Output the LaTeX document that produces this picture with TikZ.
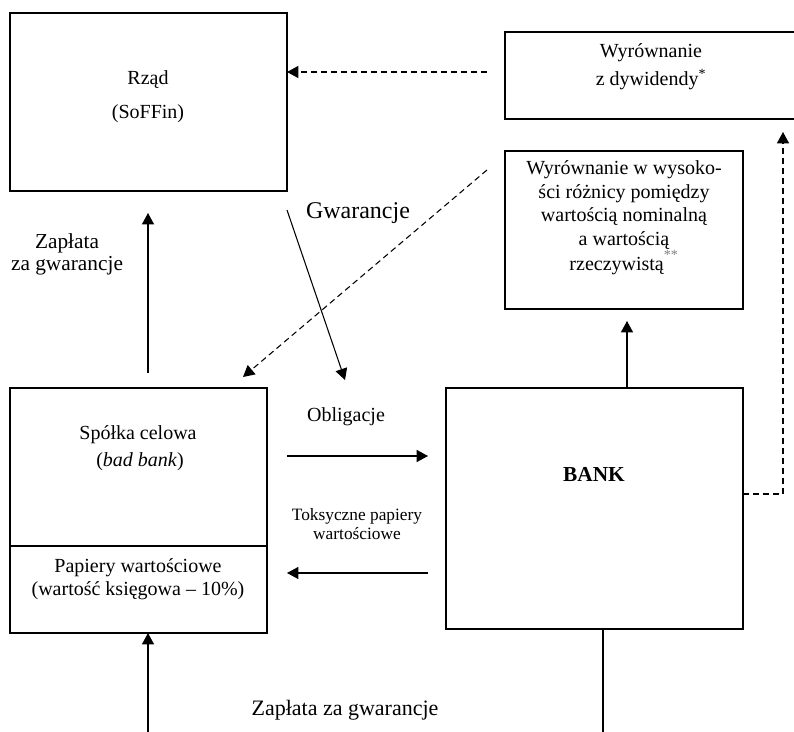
\documentclass[tikz,border=0pt]{standalone}
\usepackage{fontspec}
\setmainfont{Liberation Serif}
\usetikzlibrary{arrows.meta}
\begin{document}
\begin{tikzpicture}[x=0.75pt,y=-0.75pt,
  box/.style={draw,line width=0.9pt,inner sep=0pt,outer sep=0pt},
  conn/.style={line width=0.8pt},
  arr/.style={conn,-{Triangle[length=8.5pt,width=9pt]}},
  darr/.style={arr,dash pattern=on 4.5pt off 3pt},
  dline/.style={conn,dash pattern=on 4.5pt off 3pt},
  txt/.style={font=\fontsize{15}{17.6}\selectfont,align=center,inner sep=0pt},
  bigtxt/.style={font=\fontsize{16.5}{16.5}\selectfont,align=center,inner sep=0pt},
  smalltxt/.style={font=\fontsize{13}{14.5}\selectfont,align=center,inner sep=0pt}]
\useasboundingbox (0,0) rectangle (794,732);
% boxes
\node[box,minimum width=207.75pt,minimum height=133.5pt] (rzad) at (148.5,102) {};
\node[box,minimum width=221.25pt,minimum height=65.25pt] (dyw) at (652.5,75.5) {};
\node[box,minimum width=178.5pt,minimum height=118.5pt] (wyr) at (624,230) {};
\node[box,minimum width=222.75pt,minimum height=180.75pt] (bank) at (594.5,508.5) {};
\node[box,minimum width=192.75pt,minimum height=183.75pt] (spolka) at (138.5,510.5) {};
\coordinate (div) at (0,546);
\draw[line width=0.9pt] (spolka.west |- div) -- (spolka.east |- div);
% texts
\node[txt] (t1) at (148,80) {Rząd};
\node[txt] (t2) at (148,114) {(SoFFin)};
\node[txt] (t3) at (651,53) {Wyrównanie};
\node[txt] (t4) at (651,80) {z dywidendy\textsuperscript{*}};
\node[txt] (t5) at (624,218) {Wyrównanie w wysoko-\\ści różnicy pomiędzy\\wartością nominalną\\a wartością\\rzeczywistą\raisebox{3pt}{\textsuperscript{\textcolor{gray}{**}}}};
\node[txt] (t6) at (138,435) {Spółka celowa};
\node[txt] (t7) at (140,462) {(\textit{bad bank})};
\node[txt] (t8) at (138,579) {Papiery wartościowe\\(wartość księgowa – 10\%)};
\node[txt,font=\fontsize{16}{16}\selectfont\bfseries] (t9) at (594,474) {BANK};
\node[bigtxt,font=\fontsize{16}{16.5}\selectfont] (t10) at (67,254) {Zapłata\\za gwarancje};
\node[inner sep=0pt,font=\fontsize{18}{18}\selectfont] (t11) at (358,213) {Gwarancje};
\node[txt] (t12) at (346,417) {Obligacje};
\node[smalltxt] (t13) at (357,524) {Toksyczne papiery\\wartościowe};
\node[bigtxt] (t14) at (345,710) {Zapłata za gwarancje};
% coordinates for free ends
\coordinate (a1) at (487,72);
\coordinate (a2s) at (148,373);
\coordinate (a2e) at (148,213);
\coordinate (a3s) at (287,210);
\coordinate (a3e) at (345,380);
\coordinate (a4s) at (487,170);
\coordinate (a4e) at (243,377);
\coordinate (a5s) at (287,456);
\coordinate (a5e) at (428,456);
\coordinate (a6s) at (428,573);
\coordinate (a6e) at (287,573);
\coordinate (a7e) at (627,321);
\coordinate (a8c) at (783,494);
\coordinate (a8e) at (783,132);
\coordinate (b1) at (148,732);
\coordinate (b2) at (603,732);
% connectors
\draw[darr] (a1) -- (rzad.east |- a1);
\draw[arr] (a2s) -- (a2e);
\draw[arr] (a3s) -- (a3e);
\draw[darr] (a4s) -- (a4e);
\draw[arr] (a5s) -- (a5e);
\draw[arr] (a6s) -- (a6e);
\draw[arr] (bank.north -| a7e) -- (a7e);
\draw[dline] (bank.east |- a8c) -- (a8c);
\draw[darr] (a8c) -- (a8e);
\draw[arr] (b1) -- (spolka.south -| b1);
\draw[conn] (bank.south -| b2) -- (b2);
\end{tikzpicture}
\end{document}
